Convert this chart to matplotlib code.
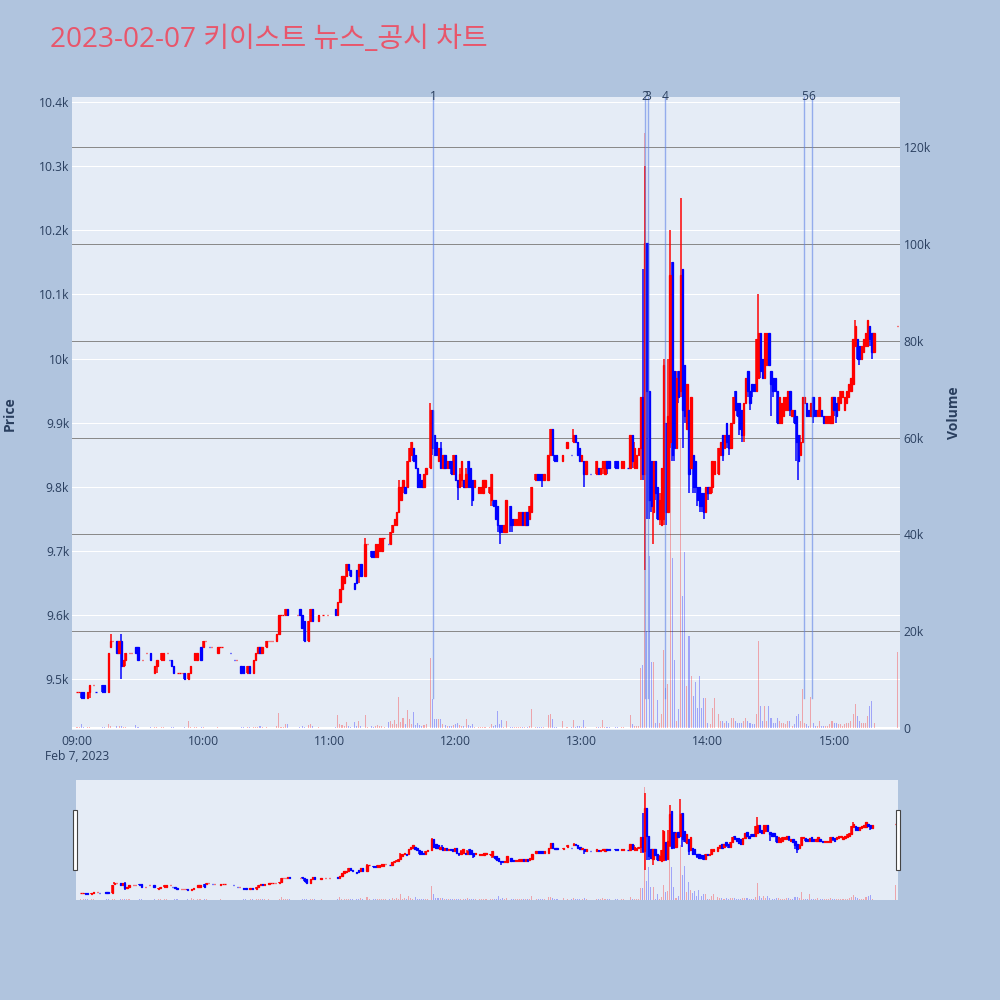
import datetime as dt
import matplotlib
matplotlib.use("Agg")
import matplotlib.pyplot as plt
import matplotlib.dates as mdates
import matplotlib.transforms as mtrans
from matplotlib.lines import Line2D
from matplotlib.patches import Rectangle

TITLE = "2023-02-07 키이스트 뉴스_공시 차트"
DATE_LABEL = "Feb 7, 2023"

# rows: (minute within the hour, open, high, low, close, volume)
bars_0900 = [
    (0, 9480, 9480, 9480, 9480, 300), (1, 9480, 9480, 9480, 9480, 200),
    (2, 9480, 9480, 9470, 9470, 900), (3, 9480, 9480, 9470, 9470, 300),
    (5, 9470, 9480, 9470, 9480, 200), (6, 9480, 9490, 9470, 9490, 300),
    (8, 9490, 9490, 9490, 9490, 100), (9, 9480, 9480, 9480, 9480, 100),
    (12, 9490, 9490, 9480, 9480, 300), (13, 9490, 9490, 9480, 9480, 200),
    (15, 9480, 9540, 9480, 9540, 900), (16, 9550, 9570, 9550, 9560, 400),
    (17, 9560, 9560, 9560, 9560, 100), (19, 9560, 9560, 9540, 9540, 500),
    (20, 9540, 9560, 9540, 9560, 400), (21, 9560, 9570, 9500, 9520, 500),
    (22, 9520, 9530, 9520, 9530, 200), (23, 9530, 9540, 9520, 9540, 200),
    (25, 9540, 9540, 9540, 9540, 100), (26, 9540, 9540, 9540, 9540, 100),
    (28, 9550, 9550, 9540, 9540, 600), (29, 9550, 9550, 9530, 9530, 300),
    (31, 9530, 9530, 9530, 9530, 100), (33, 9540, 9540, 9540, 9540, 100),
    (35, 9540, 9540, 9530, 9530, 200), (37, 9510, 9520, 9510, 9520, 200),
    (38, 9520, 9530, 9510, 9530, 300), (40, 9530, 9540, 9530, 9540, 200),
    (41, 9530, 9540, 9530, 9540, 300), (43, 9540, 9540, 9540, 9540, 100),
    (44, 9530, 9530, 9530, 9530, 100), (45, 9530, 9530, 9520, 9520, 200),
    (46, 9520, 9520, 9510, 9510, 300), (48, 9510, 9510, 9510, 9510, 100),
    (49, 9510, 9510, 9510, 9510, 100), (50, 9510, 9510, 9510, 9510, 100),
    (51, 9510, 9510, 9500, 9500, 200), (53, 9500, 9510, 9500, 9510, 1400),
    (54, 9510, 9520, 9510, 9520, 200), (56, 9530, 9540, 9530, 9540, 200),
    (57, 9530, 9540, 9530, 9540, 200), (59, 9550, 9550, 9530, 9530, 300),
]
bars_1000 = [
    (0, 9550, 9560, 9550, 9560, 200), (1, 9560, 9560, 9560, 9560, 100),
    (3, 9550, 9550, 9550, 9550, 100), (4, 9550, 9550, 9550, 9550, 100),
    (7, 9540, 9550, 9540, 9550, 300), (8, 9550, 9550, 9550, 9550, 100),
    (9, 9550, 9550, 9550, 9550, 100), (13, 9540, 9540, 9540, 9540, 100),
    (15, 9530, 9530, 9530, 9530, 100), (16, 9530, 9530, 9530, 9530, 100),
    (18, 9520, 9520, 9510, 9510, 300), (19, 9520, 9520, 9510, 9510, 200),
    (21, 9510, 9520, 9510, 9520, 200), (22, 9520, 9520, 9510, 9510, 300),
    (24, 9510, 9530, 9510, 9530, 300), (25, 9530, 9540, 9530, 9540, 300),
    (26, 9540, 9550, 9540, 9550, 300), (27, 9550, 9550, 9540, 9540, 400),
    (28, 9540, 9550, 9540, 9550, 200), (30, 9550, 9560, 9550, 9560, 300),
    (31, 9560, 9560, 9560, 9560, 100), (32, 9560, 9560, 9560, 9560, 100),
    (33, 9560, 9560, 9560, 9560, 100), (35, 9560, 9570, 9560, 9570, 400),
    (36, 9570, 9600, 9570, 9600, 3200), (37, 9600, 9600, 9600, 9600, 300),
    (38, 9600, 9600, 9600, 9600, 200), (39, 9600, 9610, 9600, 9610, 900),
    (40, 9610, 9610, 9600, 9600, 900), (45, 9600, 9600, 9600, 9600, 100),
    (46, 9610, 9610, 9600, 9600, 300), (47, 9600, 9600, 9580, 9580, 400),
    (48, 9590, 9590, 9560, 9560, 300), (50, 9560, 9590, 9560, 9590, 600),
    (51, 9590, 9610, 9590, 9610, 900), (52, 9610, 9610, 9590, 9590, 400),
    (55, 9590, 9600, 9590, 9600, 300), (57, 9600, 9600, 9600, 9600, 100),
    (59, 9600, 9600, 9600, 9600, 100),
]
bars_1100 = [
    (3, 9610, 9610, 9600, 9600, 300), (4, 9600, 9620, 9600, 9620, 2600),
    (5, 9620, 9640, 9620, 9640, 800), (6, 9640, 9660, 9640, 9660, 600),
    (7, 9650, 9660, 9650, 9660, 400), (8, 9660, 9680, 9660, 9680, 1200),
    (9, 9680, 9680, 9670, 9670, 400), (10, 9670, 9670, 9660, 9660, 300),
    (12, 9650, 9650, 9640, 9640, 1200), (13, 9670, 9670, 9650, 9650, 400),
    (14, 9660, 9680, 9650, 9680, 1500), (15, 9680, 9680, 9660, 9660, 500),
    (17, 9660, 9720, 9660, 9710, 2800), (18, 9710, 9710, 9710, 9710, 200),
    (20, 9700, 9700, 9690, 9690, 400), (21, 9700, 9700, 9690, 9690, 300),
    (22, 9690, 9710, 9690, 9710, 400), (23, 9690, 9710, 9690, 9710, 600),
    (24, 9700, 9720, 9700, 9720, 500), (25, 9700, 9720, 9700, 9720, 400),
    (26, 9720, 9720, 9720, 9720, 200), (28, 9710, 9710, 9710, 9710, 1200),
    (29, 9710, 9730, 9710, 9730, 1500), (30, 9730, 9740, 9730, 9740, 800),
    (31, 9740, 9750, 9740, 9750, 1700), (32, 9740, 9760, 9740, 9760, 900),
    (33, 9760, 9810, 9760, 9800, 6500), (34, 9780, 9800, 9780, 9800, 1200),
    (35, 9800, 9810, 9790, 9810, 2000), (36, 9800, 9800, 9790, 9790, 800),
    (37, 9800, 9840, 9800, 9840, 3800), (38, 9840, 9860, 9840, 9860, 1900),
    (39, 9850, 9870, 9850, 9870, 800), (40, 9860, 9860, 9840, 9840, 3400),
    (41, 9850, 9850, 9830, 9830, 700), (42, 9830, 9830, 9800, 9800, 1000),
    (43, 9820, 9820, 9800, 9800, 600), (44, 9810, 9810, 9800, 9800, 500),
    (45, 9800, 9820, 9800, 9820, 700), (46, 9820, 9830, 9820, 9830, 800),
    (48, 9830, 9930, 9830, 9920, 14500), (49, 9920, 9920, 9850, 9860, 6100),
    (50, 9880, 9880, 9850, 9850, 1800), (51, 9870, 9870, 9850, 9850, 1800),
    (52, 9840, 9860, 9840, 9860, 1800), (53, 9860, 9870, 9830, 9830, 1800),
    (54, 9830, 9850, 9830, 9850, 800), (55, 9850, 9850, 9830, 9830, 600),
    (56, 9830, 9840, 9830, 9840, 500), (57, 9840, 9840, 9830, 9830, 400),
    (58, 9840, 9840, 9820, 9820, 500), (59, 9820, 9850, 9820, 9850, 600),
]
bars_1200 = [
    (0, 9850, 9850, 9810, 9810, 800), (1, 9810, 9810, 9780, 9800, 1000),
    (2, 9800, 9830, 9800, 9820, 600), (3, 9810, 9840, 9800, 9840, 500),
    (4, 9810, 9810, 9800, 9800, 400), (5, 9800, 9830, 9800, 9820, 1900),
    (6, 9840, 9840, 9800, 9800, 600), (7, 9830, 9830, 9800, 9800, 500),
    (8, 9810, 9810, 9770, 9780, 800), (9, 9800, 9810, 9800, 9810, 300),
    (11, 9790, 9800, 9790, 9800, 300), (12, 9790, 9800, 9790, 9800, 300),
    (13, 9790, 9810, 9790, 9810, 300), (14, 9800, 9810, 9800, 9810, 300),
    (16, 9790, 9800, 9790, 9800, 300), (17, 9780, 9820, 9770, 9820, 800),
    (18, 9780, 9780, 9770, 9770, 400), (19, 9780, 9780, 9750, 9750, 600),
    (20, 9770, 9770, 9730, 9740, 3600), (21, 9740, 9740, 9710, 9730, 900),
    (22, 9740, 9740, 9730, 9730, 1600), (23, 9730, 9740, 9730, 9740, 300),
    (24, 9730, 9780, 9730, 9780, 1500), (26, 9770, 9770, 9730, 9740, 300),
    (27, 9750, 9750, 9730, 9740, 300), (28, 9740, 9750, 9740, 9750, 200),
    (29, 9740, 9750, 9740, 9750, 200), (30, 9740, 9760, 9740, 9760, 300),
    (31, 9740, 9760, 9740, 9760, 300), (32, 9760, 9760, 9740, 9740, 300),
    (33, 9740, 9760, 9740, 9760, 300), (34, 9760, 9760, 9740, 9740, 300),
    (35, 9750, 9770, 9750, 9770, 500), (36, 9760, 9800, 9760, 9800, 4000),
    (38, 9810, 9820, 9810, 9820, 300), (39, 9820, 9820, 9810, 9810, 300),
    (40, 9820, 9820, 9810, 9810, 200), (41, 9820, 9820, 9800, 9810, 300),
    (42, 9810, 9820, 9810, 9820, 200), (44, 9810, 9850, 9810, 9850, 2800),
    (45, 9850, 9890, 9850, 9890, 3000), (46, 9890, 9890, 9850, 9850, 1900),
    (47, 9850, 9850, 9840, 9840, 300), (48, 9850, 9850, 9840, 9840, 300),
    (51, 9840, 9850, 9840, 9850, 1400), (53, 9860, 9870, 9860, 9870, 300),
    (55, 9850, 9850, 9850, 9850, 200), (56, 9870, 9890, 9870, 9880, 1700),
    (57, 9880, 9880, 9870, 9870, 300), (58, 9870, 9870, 9850, 9850, 400),
    (59, 9860, 9860, 9840, 9840, 400),
]
bars_1300 = [
    (0, 9840, 9850, 9840, 9850, 300), (1, 9840, 9840, 9800, 9820, 1600),
    (2, 9820, 9840, 9820, 9840, 300), (4, 9820, 9820, 9820, 9820, 100),
    (7, 9820, 9840, 9820, 9840, 300), (8, 9830, 9830, 9820, 9820, 300),
    (9, 9820, 9830, 9820, 9830, 300), (10, 9830, 9840, 9820, 9840, 1700),
    (11, 9820, 9840, 9820, 9840, 300), (12, 9840, 9840, 9820, 9830, 300),
    (13, 9840, 9840, 9830, 9830, 300), (16, 9840, 9840, 9830, 9830, 300),
    (17, 9840, 9840, 9830, 9830, 300), (19, 9830, 9840, 9830, 9840, 300),
    (20, 9830, 9840, 9830, 9840, 300), (22, 9830, 9830, 9830, 9830, 100),
    (23, 9830, 9880, 9830, 9880, 2800), (24, 9880, 9880, 9830, 9840, 900),
    (25, 9830, 9870, 9830, 9860, 400), (26, 9830, 9850, 9830, 9850, 400),
    (27, 9850, 9860, 9850, 9860, 400), (28, 9860, 9940, 9810, 9940, 12400),
    (29, 9940, 10140, 9810, 9820, 13000), (30, 9820, 10300, 9670, 10180, 123000),
    (31, 10180, 10180, 9750, 9950, 20000), (32, 9950, 9950, 9750, 9780, 35500),
    (33, 9840, 9840, 9760, 9770, 13700), (34, 9760, 9840, 9710, 9840, 13700),
    (35, 9840, 9840, 9780, 9790, 1000), (36, 9800, 9800, 9750, 9750, 5900),
    (37, 9750, 9790, 9740, 9780, 1000), (38, 9740, 9830, 9740, 9830, 3000),
    (39, 9750, 10000, 9740, 9990, 16100), (40, 9900, 9900, 9740, 9760, 8300),
    (41, 9760, 10000, 9760, 9910, 9200), (42, 9870, 10200, 9860, 10130, 60000),
    (43, 10150, 10150, 9840, 9850, 35100), (44, 9980, 9980, 9840, 9860, 14100),
    (45, 9860, 9980, 9860, 9970, 1500), (46, 9980, 9980, 9930, 9940, 4000),
    (47, 9950, 10250, 9940, 10130, 60000), (48, 10140, 10140, 9860, 9920, 27300),
    (49, 9990, 9990, 9900, 9910, 36400), (50, 9890, 9960, 9890, 9960, 8700),
    (51, 9920, 9920, 9790, 9820, 19000), (52, 9830, 9940, 9830, 9940, 10800),
    (53, 9850, 9850, 9790, 9800, 6700), (54, 9840, 9840, 9790, 9800, 9600),
    (55, 9800, 9800, 9770, 9780, 4200), (56, 9800, 9800, 9760, 9770, 10800),
    (57, 9790, 9790, 9760, 9770, 4200), (58, 9790, 9790, 9750, 9760, 6300),
    (59, 9760, 9800, 9760, 9800, 6300),
]
bars_1400 = [
    (0, 9800, 9800, 9780, 9790, 1000), (1, 9790, 9800, 9790, 9800, 900),
    (2, 9800, 9840, 9790, 9840, 4200), (3, 9820, 9840, 9820, 9840, 6300),
    (5, 9820, 9860, 9820, 9860, 3000), (6, 9850, 9870, 9850, 9870, 1500),
    (7, 9880, 9880, 9840, 9850, 1500), (8, 9860, 9880, 9860, 9880, 1000),
    (9, 9900, 9900, 9860, 9870, 1500), (10, 9880, 9880, 9850, 9860, 1000),
    (11, 9860, 9900, 9860, 9900, 2000), (12, 9900, 9940, 9900, 9940, 2000),
    (13, 9950, 9950, 9920, 9920, 1500), (14, 9930, 9930, 9910, 9910, 1000),
    (15, 9930, 9930, 9880, 9890, 1000), (16, 9920, 9920, 9870, 9880, 1000),
    (17, 9880, 9930, 9870, 9930, 1500), (18, 9930, 9970, 9930, 9970, 2000),
    (19, 9980, 9980, 9940, 9950, 1500), (20, 9950, 9950, 9920, 9930, 1000),
    (21, 9960, 9960, 9940, 9950, 800), (22, 9960, 9960, 9950, 9950, 800),
    (23, 9950, 10030, 9950, 10030, 3000), (24, 9970, 10100, 9970, 10040, 18000),
    (25, 10040, 10040, 9970, 9980, 4500), (26, 10000, 10000, 9970, 9970, 1500),
    (27, 9970, 10040, 9970, 10040, 4500), (28, 9990, 10040, 9990, 10040, 1500),
    (29, 10040, 10040, 9990, 9990, 4500), (30, 9980, 9980, 9910, 9960, 2000),
    (31, 9970, 9970, 9940, 9950, 1000), (32, 9970, 9970, 9950, 9950, 1000),
    (33, 9950, 9950, 9900, 9900, 2000), (34, 9900, 9940, 9900, 9940, 1500),
    (35, 9900, 9930, 9900, 9930, 1000), (36, 9910, 9940, 9910, 9940, 1000),
    (37, 9920, 9940, 9920, 9940, 800), (38, 9920, 9950, 9920, 9950, 1500),
    (39, 9950, 9950, 9910, 9920, 1500), (40, 9910, 9920, 9910, 9920, 500),
    (41, 9920, 9920, 9900, 9900, 800), (42, 9910, 9910, 9840, 9870, 2500),
    (43, 9880, 9880, 9810, 9840, 3000), (44, 9850, 9880, 9850, 9870, 1500),
    (45, 9870, 9940, 9870, 9940, 8000), (46, 9930, 9940, 9930, 9940, 1000),
    (47, 9930, 9930, 9910, 9910, 800), (48, 9920, 9920, 9910, 9910, 500),
    (49, 9910, 9930, 9910, 9930, 6500), (50, 9940, 9940, 9900, 9910, 1000),
    (51, 9920, 9920, 9910, 9910, 500), (52, 9910, 9920, 9910, 9920, 500),
    (53, 9910, 9940, 9910, 9940, 1500), (54, 9920, 9920, 9910, 9910, 500),
    (55, 9910, 9910, 9900, 9900, 500), (56, 9900, 9910, 9900, 9910, 500),
    (57, 9900, 9910, 9900, 9910, 500), (58, 9900, 9910, 9900, 9910, 800),
    (59, 9900, 9940, 9900, 9940, 1500),
]
bars_1500 = [
    (0, 9940, 9940, 9910, 9920, 1000), (1, 9930, 9930, 9900, 9910, 1000),
    (2, 9920, 9940, 9920, 9940, 800), (3, 9930, 9950, 9930, 9950, 800),
    (4, 9940, 9950, 9940, 9950, 500), (5, 9920, 9940, 9920, 9940, 800),
    (6, 9930, 9950, 9930, 9950, 1000), (7, 9940, 9960, 9940, 9960, 1000),
    (8, 9950, 9970, 9950, 9970, 1500), (9, 9960, 10030, 9960, 10030, 3000),
    (10, 10020, 10060, 10020, 10050, 5000), (11, 10030, 10030, 10000, 10000, 2500),
    (12, 10020, 10020, 9990, 10000, 1500), (13, 10000, 10020, 10000, 10020, 1000),
    (14, 10010, 10030, 10010, 10030, 1000), (15, 10020, 10040, 10020, 10040, 1000),
    (16, 10020, 10060, 10020, 10060, 2500), (17, 10050, 10050, 10020, 10030, 4500),
    (18, 10040, 10040, 10000, 10010, 5500), (19, 10010, 10040, 10010, 10040, 1000),
    (30, 10050, 10050, 10050, 10050, 15700),
]

event_labels = ["1", "2", "3", "4", "5", "6"]
event_times = ["11:49:20", "13:30:05", "13:31:40", "13:39:35", "14:45:50", "14:49:20"]

price_ticks = [9500, 9600, 9700, 9800, 9900, 10000, 10100, 10200, 10300, 10400]
volume_ticks = [0, 20000, 40000, 60000, 80000, 100000, 120000]
hour_ticks = ["09:00", "10:00", "11:00", "12:00", "13:00", "14:00", "15:00"]

# ---------------------------------------------------------------- build
base = dt.datetime(2023, 2, 7)
segments = [(9, bars_0900), (10, bars_1000), (11, bars_1100), (12, bars_1200),
            (13, bars_1300), (14, bars_1400), (15, bars_1500)]
T, O, H, L, C, V = [], [], [], [], [], []
for hour, seg in segments:
    for mm, o, h, l, c, v in seg:
        T.append(base.replace(hour=hour, minute=mm))
        O.append(o); H.append(h); L.append(l); C.append(c); V.append(v)
X = mdates.date2num(T)

RED, BLUE = "#FF0000", "#0000FF"
up = []
prev = C[0]
for o, c in zip(O, C):
    up.append(c > o or (c == o and c >= prev))
    prev = c
cols = [RED if u else BLUE for u in up]

BG = "#B0C4DE"
PLOT_BG = "#E5ECF6"
TXT = "#2a3f5f"
PX = 72 / 100.0
MIN = 1 / 1440.0
FAM = ["Open Sans", "DejaVu Sans"]


def tnum(s):
    fmt = "%H:%M:%S" if s.count(":") == 2 else "%H:%M"
    return mdates.date2num(dt.datetime.combine(base.date(), dt.datetime.strptime(s, fmt).time()))


x_lo = tnum("08:57:37")
x_hi = tnum("15:31:20")
P_LIM = (9420.5, 10408)
V_LIM = (-400, 130400)

fig = plt.figure(figsize=(10, 10), dpi=100, facecolor=BG)


def draw(ax_v, ax_p, grid=True):
    ax_v.set_facecolor(PLOT_BG)
    ax_p.patch.set_visible(False)
    for a in (ax_v, ax_p):
        for s in a.spines.values():
            s.set_visible(False)
        a.set_xlim(x_lo, x_hi)
    ax_p.set_ylim(*P_LIM)
    ax_v.set_ylim(*V_LIM)
    if grid:
        bt = mtrans.blended_transform_factory(ax_v.transAxes, ax_p.transData)
        for p in price_ticks:
            ax_v.add_line(Line2D([0, 1], [p, p], transform=bt, color="white",
                                 lw=1.0 * PX, zorder=0.5))
        for v in volume_ticks[1:]:
            ax_v.axhline(v, color="#8a8a8a", lw=1.0 * PX, zorder=0.6)
        ax_v.axhline(0, color="white", lw=2.0 * PX, zorder=0.7)
    # volume bars
    ax_v.bar(X, V, width=0.5 * MIN, color=cols, alpha=0.3, linewidth=0, zorder=2)
    # candles
    ax_p.vlines(X, L, H, colors=cols, linewidth=1.5 * PX, zorder=3)
    ax_p.bar(X, [abs(c - o) for o, c in zip(O, C)],
             bottom=[min(o, c) for o, c in zip(O, C)], width=0.6 * MIN,
             color=cols, edgecolor=cols, linewidth=1.3 * PX, zorder=4)


# main chart
ax_v = fig.add_axes([0.072, 0.270, 0.828, 0.633])
ax_p = ax_v.twinx()
draw(ax_v, ax_p)

ax_p.yaxis.tick_left()
ax_v.yaxis.tick_right()
ax_p.set_yticks(price_ticks)
ax_p.set_yticklabels([f"{p / 1000:g}k" for p in price_ticks])
ax_v.set_yticks(volume_ticks)
ax_v.set_yticklabels(["0" if v == 0 else f"{v // 1000}k" for v in volume_ticks])
ax_v.set_xticks([tnum(h) for h in hour_ticks])
ax_v.set_xticklabels(hour_ticks)
ax_v.set_xlim(x_lo, x_hi)
ax_p.tick_params(axis="y", length=0, pad=2, labelsize=8.7, labelcolor=TXT)
ax_v.tick_params(axis="y", length=0, pad=2.5, labelsize=8.7, labelcolor=TXT)
ax_v.tick_params(axis="x", length=0, pad=3.8, labelsize=8.7, labelcolor=TXT)
for lab in ax_v.get_xticklabels() + ax_v.get_yticklabels() + ax_p.get_yticklabels():
    lab.set_fontfamily(FAM)

# event lines
low_day = min(L)
for lab, t in zip(event_labels, event_times):
    xe = tnum(t)
    ax_p.plot([xe, xe], [low_day, P_LIM[1]], color="#5f82e6", alpha=0.6,
              lw=1.4 * PX, zorder=5)
    ax_p.text(xe, P_LIM[1], lab, ha="center", va="center", fontsize=8.7,
              color=TXT, family=FAM, zorder=6)

# texts
fig.text(0.050, 1 - 0.040, TITLE, ha="left", va="center", fontsize=20.2,
         color="#E8566B", family=["Open Sans", "Noto Sans CJK KR"])
fig.text(0.077, 1 - 0.757, DATE_LABEL, ha="center", va="center", fontsize=8.7,
         color=TXT, family=FAM)
fig.text(0.010, 1 - 0.414, "Price", rotation=90, ha="center", va="center",
         fontsize=10, fontweight="bold", color=TXT, family=FAM)
fig.text(0.954, 1 - 0.413, "Volume", rotation=90, ha="center", va="center",
         fontsize=10, fontweight="bold", color=TXT, family=FAM)

# range slider
rs_v = fig.add_axes([0.076, 0.100, 0.822, 0.120])
rs_p = rs_v.twinx()
draw(rs_v, rs_p, grid=False)
for a in (rs_v, rs_p):
    a.set_yticks([])
rs_v.set_xticks([])
for xh in (0.0728, 0.8962):
    fig.patches.append(Rectangle((xh, 0.130), 0.0042, 0.060, transform=fig.transFigure,
                                 facecolor="white", edgecolor="#444444", lw=0.8, zorder=10))

fig.savefig("out.png", dpi=100, facecolor=BG)
